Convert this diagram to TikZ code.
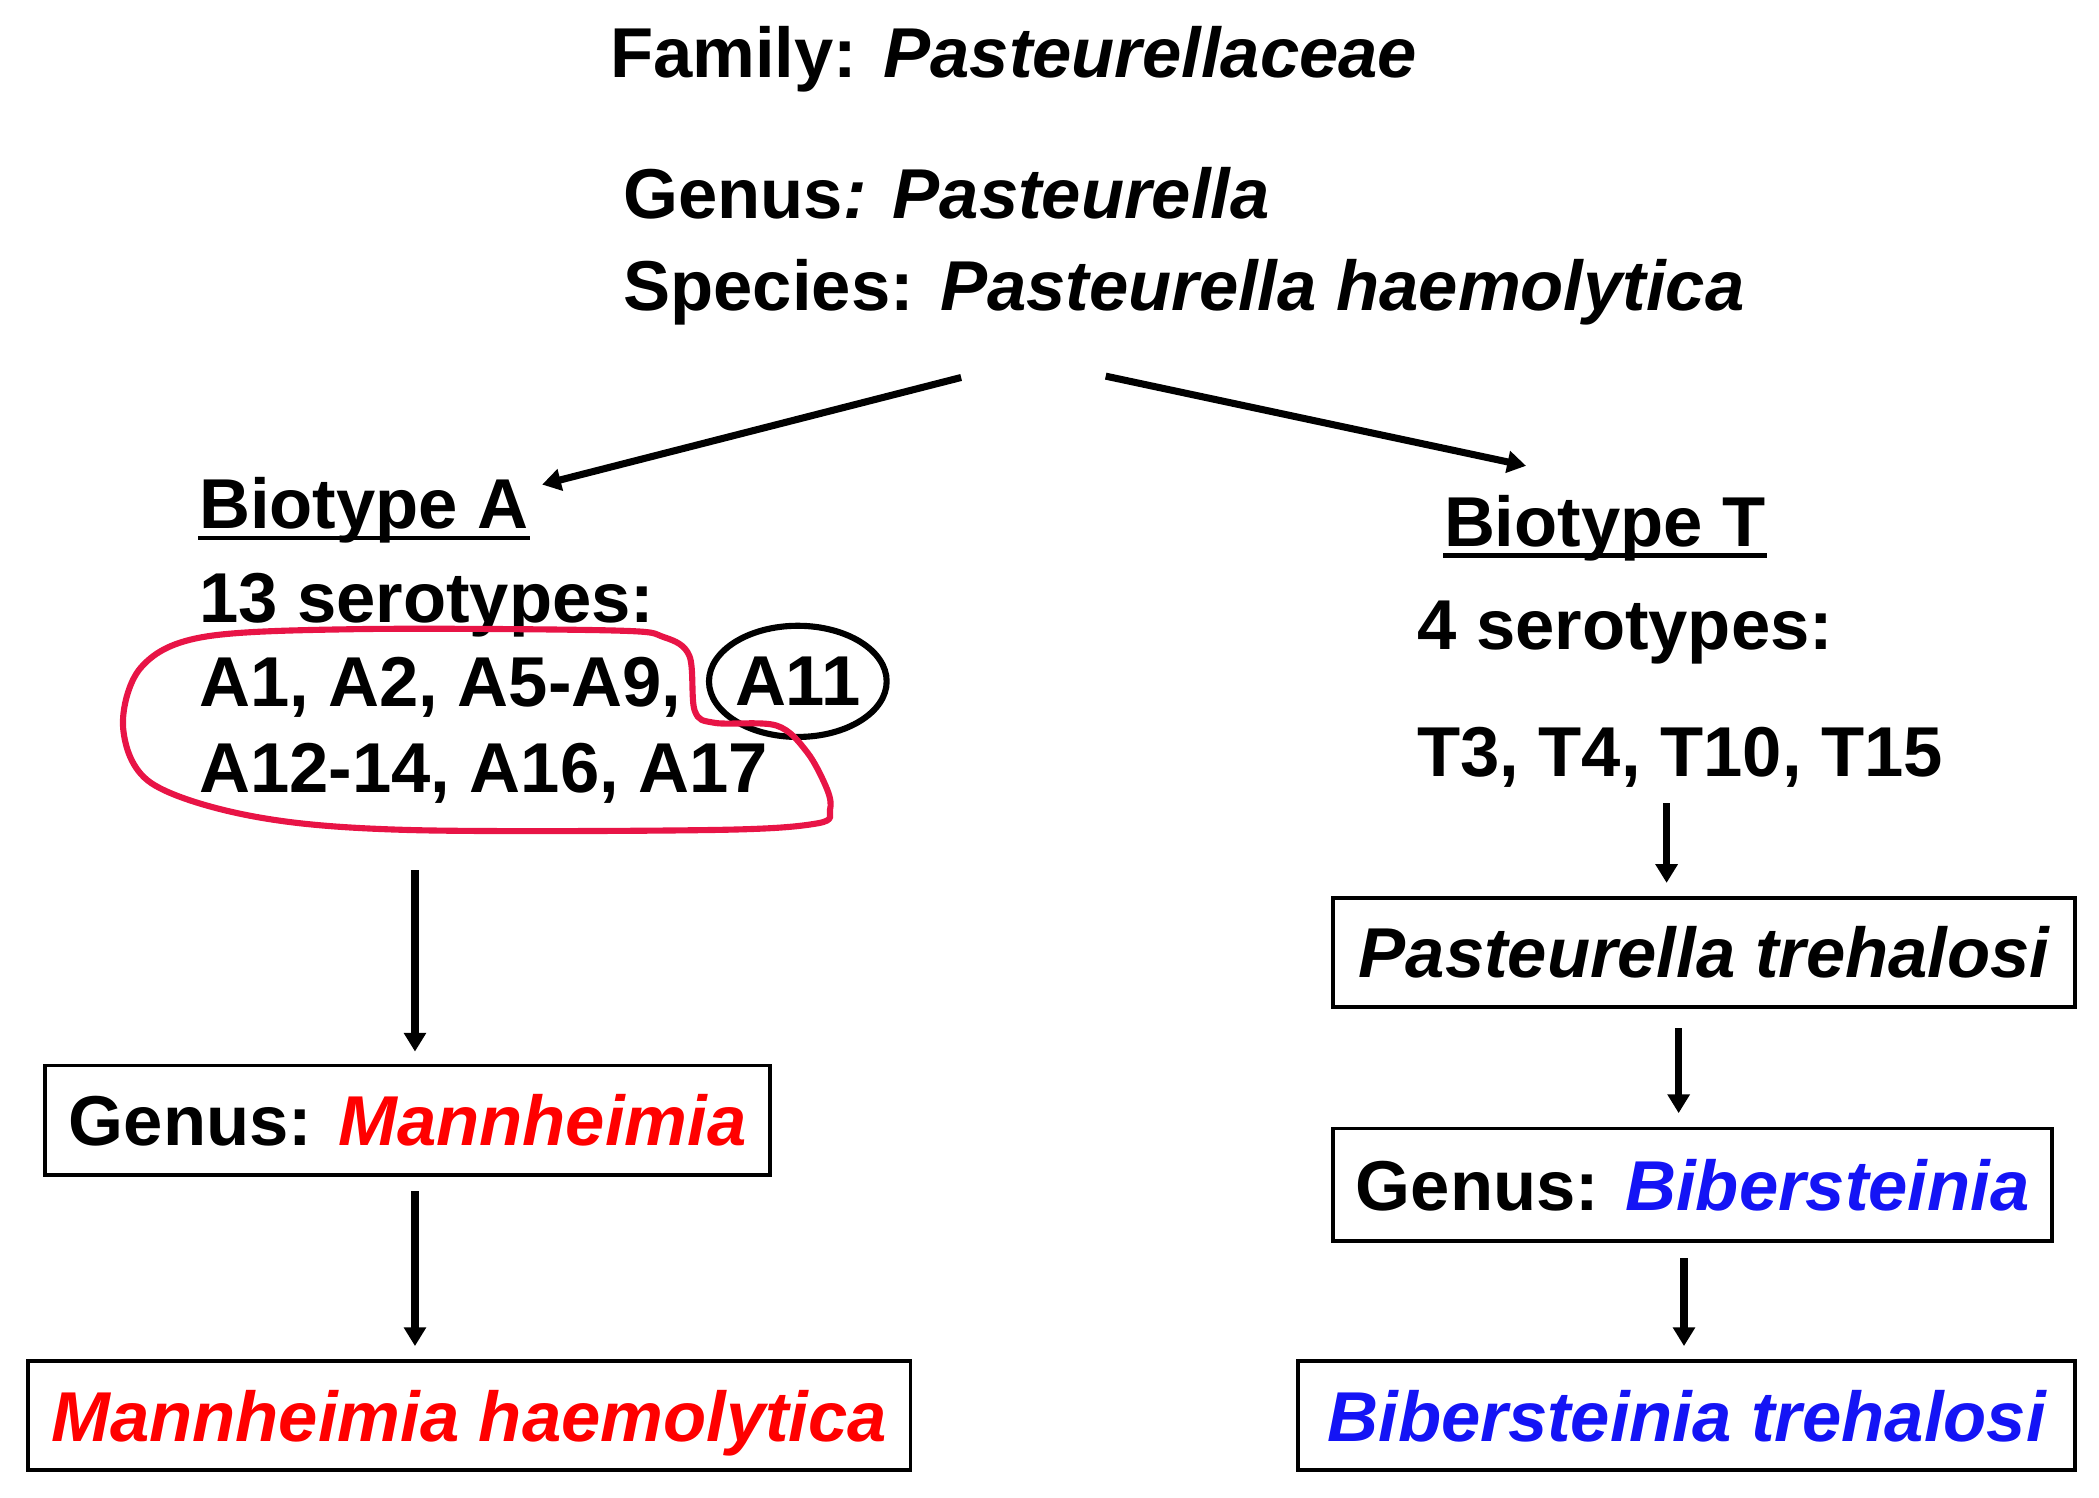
\documentclass[tikz,border=0pt]{standalone}
\usepackage{fontspec}
\setmainfont{Liberation Sans}
\usepackage{xcolor}
\usetikzlibrary{arrows.meta,shapes.geometric,calc}
\definecolor{mannred}{RGB}{255,0,0}
\definecolor{biberblue}{RGB}{20,20,245}
\definecolor{loopred}{RGB}{232,20,70}
\tikzset{
    txt/.style={anchor=base west, inner sep=0pt, font=\fontsize{15}{18}\selectfont\bfseries},
    taxbox/.style={draw, line width=0.8pt, inner sep=0pt, text height=0.38cm, text depth=0pt, font=\fontsize{15}{18}\selectfont\bfseries},
    arr/.style={line width=1.5pt, -{Triangle[length=1.4mm,width=1.6mm]}}}

\begin{document}
\begin{tikzpicture}[x=0.01cm,y=-0.01cm]
\useasboundingbox (0,0) rectangle (1568,1119);
% top of the tree
\node[txt] (fam) at (455,58) {Family: \textit{Pasteurellaceae}};
\node[txt] (gen) at (465,163) {Genus\textit{: Pasteurella}};
\node[txt] (spec) at (465,232) {Species: \textit{Pasteurella haemolytica}};
\coordinate (s1) at (718,282);
\coordinate (s2) at (826,281);

% biotype A
\node[txt] (bioA) at (148,395) {Biotype A};
\draw [line width=1pt] ([yshift=-0.07cm]bioA.base west) -- ([yshift=-0.07cm]bioA.base east);
\node[txt] (serA) at (148,465) {13 serotypes:};
\node[txt] (lstA1) at (148,528) {A1, A2, A5-A9,};
\node[txt] (lstA2) at (148,592) {A12-14, A16, A17};
\node[txt, anchor=center, ellipse, draw, line width=1.3pt, minimum width=1.28cm, minimum height=0.83cm] (a11) at (596,509) {A11};
\draw [loopred, line width=1.3pt] plot[smooth cycle, tension=0.55] coordinates {
  (266,470) (458,471) (496,476) (515,490) (519,531) (534,540) (580,542)
  (603,562) (618,590) (620,605) (611,615) (534,620) (304,620) (190,610)
  (113,585) (92,544) (105,499) (151,476)};
\coordinate (bA) at (405,362);
\draw [arr] (s1) -- (bA);

% biotype T
\node[txt] (bioT) at (1078,408) {Biotype T};
\draw [line width=1pt] ([yshift=-0.07cm]bioT.base west) -- ([yshift=-0.07cm]bioT.base east);
\node[txt] (serT) at (1058,485) {4 serotypes:};
\node[txt] (lstT) at (1058,580) {T3, T4, T10, T15};
\coordinate (bT) at (1140,348);
\draw [arr] (s2) -- (bT);

% boxes
\node[taxbox, minimum width=5.41cm, minimum height=0.82cm] (genM) at (304.5,837) {Genus: \textit{\color{mannred}Mannheimia}};
\node[taxbox, minimum width=6.59cm, minimum height=0.81cm] (mhae) at (350.5,1057.5) {\itshape\color{mannred}Mannheimia haemolytica};
\node[taxbox, minimum width=5.54cm, minimum height=0.81cm] (ptre) at (1273,711.5) {\itshape Pasteurella trehalosi};
\node[taxbox, minimum width=5.37cm, minimum height=0.84cm] (genB) at (1264.5,885) {Genus: \textit{\color{biberblue}Bibersteinia}};
\node[taxbox, minimum width=5.80cm, minimum height=0.81cm] (btre) at (1260,1057.5) {\itshape\color{biberblue}Bibersteinia trehalosi};

\coordinate (a1) at (310,650);
\coordinate (a2) at (310,890);
\coordinate (t1) at (1245,600);
\coordinate (t2) at (1254,768);
\coordinate (t3) at (1258,940);
\draw [arr] (a1) -- ([yshift=0.09cm]a1 |- genM.north);
\draw [arr] (a2) -- ([yshift=0.1cm]a2 |- mhae.north);
\draw [arr] (t1) -- ([yshift=0.1cm]t1 |- ptre.north);
\draw [arr] (t2) -- ([yshift=0.1cm]t2 |- genB.north);
\draw [arr] (t3) -- ([yshift=0.1cm]t3 |- btre.north);
\end{tikzpicture}
\end{document}
